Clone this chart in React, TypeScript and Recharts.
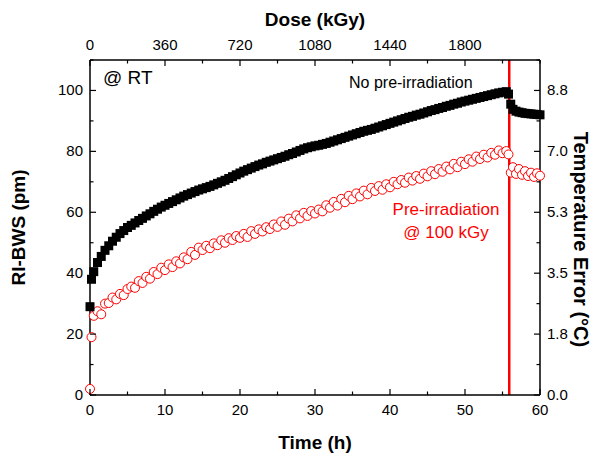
import React from "react";
import {
  ScatterChart, Scatter, XAxis, YAxis, ReferenceLine,
} from "recharts";

// time stamps (h), shared by both series
const hours = [
  0, 0.2,
  0.5, 1, 1.5, 2, 2.5, 3, 3.5, 4, 4.5, 5, 5.5, 6, 6.5, 7, 7.5, 8, 8.5, 9, 9.5, 10,
  10.5, 11, 11.5, 12, 12.5, 13, 13.5, 14, 14.5, 15, 15.5, 16, 16.5, 17, 17.5, 18, 18.5, 19, 19.5, 20,
  20.5, 21, 21.5, 22, 22.5, 23, 23.5, 24, 24.5, 25, 25.5, 26, 26.5, 27, 27.5, 28, 28.5, 29, 29.5, 30,
  30.5, 31, 31.5, 32, 32.5, 33, 33.5, 34, 34.5, 35, 35.5, 36, 36.5, 37, 37.5, 38, 38.5, 39, 39.5, 40,
  40.5, 41, 41.5, 42, 42.5, 43, 43.5, 44, 44.5, 45, 45.5, 46, 46.5, 47, 47.5, 48, 48.5, 49, 49.5, 50,
  50.5, 51, 51.5, 52, 52.5, 53, 53.5, 54, 54.5, 55, 55.5,
  55.8, 56.1, 56.4, 56.8, 57.2, 57.6, 58, 58.4, 58.8, 59.2, 59.6, 60,
];

// RI-BWS (pm), no pre-irradiation
const noPreIrr = [
  29, 38,
  40.5, 43.5, 45.5, 47.5, 49, 50.5, 51.8, 53, 54, 55, 55.7, 56.5, 57.3, 58, 58.8, 59.5, 60.3, 61, 61.7, 62.3,
  62.9, 63.5, 64.1, 64.7, 65.3, 65.8, 66.3, 66.8, 67.3, 67.7, 68.1, 68.5, 69, 69.5, 70, 70.5, 71.1, 71.7, 72.3, 72.9,
  73.5, 74, 74.5, 75, 75.5, 75.9, 76.4, 76.8, 77.2, 77.6, 78, 78.4, 78.9, 79.3, 79.8, 80.3, 80.8, 81.2, 81.5, 81.8,
  82, 82.3, 82.6, 83, 83.4, 83.8, 84.2, 84.6, 85, 85.4, 85.8, 86.2, 86.6, 86.9, 87.2, 87.6, 88, 88.4, 88.8, 89.2,
  89.6, 90, 90.4, 90.8, 91.2, 91.5, 91.9, 92.2, 92.6, 93, 93.4, 93.7, 94.1, 94.4, 94.8, 95.1, 95.5, 95.8, 96.2, 96.5,
  96.8, 97.1, 97.4, 97.7, 98, 98.3, 98.6, 98.9, 99.2, 99.4, 99.6,
  98.8, 95.5, 93.8, 93.2, 92.9, 92.7, 92.5, 92.4, 92.3, 92.2, 92.1, 92,
];

// RI-BWS (pm), pre-irradiation @ 100 kGy
const preIrr = [
  2, 19,
  26, 27.5, 26.5, 30, 30.2, 32, 31.4, 33.2, 32.8, 34.8, 35.6, 35.2, 37.4, 36.8, 38.8, 38.2, 40.4, 39.7, 41.8, 41,
  42.9, 42, 43.9, 43.2, 45.2, 44.6, 47, 46, 48.4, 47.6, 49, 48.2, 49.8, 49.2, 50.8, 50, 51.5, 50.9, 52.2, 51.6,
  52.9, 51.9, 53.8, 52.9, 54.4, 53.7, 55.1, 54.5, 56, 55.2, 57, 55.9, 57.9, 57, 59, 58, 59.8, 58.8, 60.4, 59.6,
  60.9, 60.3, 62.3, 61.5, 63.4, 62.2, 64.4, 63.3, 65.4, 64.3, 66.2, 65.2, 67.1, 65.9, 68, 67, 68.6, 67.4, 69.2, 68.2,
  70, 69.2, 70.6, 69.7, 71.4, 70.4, 71.9, 71, 72.7, 71.8, 73.5, 72.5, 74.2, 73.3, 75, 74.1, 75.9, 74.8, 76.6, 75.8,
  77.4, 76.6, 78.3, 77.5, 78.9, 78, 79.5, 78.9, 80.3, 79.4, 80.1,
  79, 73, 74.8, 72.6, 74.2, 72.3, 73.5, 71.9, 73, 71.6, 72.8, 72,
];

const timeTicks = [0, 5, 10, 15, 20, 25, 30, 35, 40, 45, 50, 55, 60];
const timeLabels = ["0", "", "10", "", "20", "", "30", "", "40", "", "50", "", "60"];
const doseTicks = [0, 180, 360, 540, 720, 900, 1080, 1260, 1440, 1620, 1800, 1980, 2160];
const doseLabels = ["0", "", "360", "", "720", "", "1080", "", "1440", "", "1800", "", ""];
const doseRange = [0, 2160];
const pmTicks = [0, 10, 20, 30, 40, 50, 60, 70, 80, 90, 100, 110];
const pmLabels = ["0", "", "20", "", "40", "", "60", "", "80", "", "100", ""];
const tempLabels = ["0.0", "", "1.8", "", "3.5", "", "5.3", "", "7.0", "", "8.8", ""];

const irradiationEnd = 55.9;

const FONT = "'Liberation Sans', Arial, sans-serif";

const noPreData = hours.map((t, i) => ({ t, v: noPreIrr[i] }));
const preData = hours.map((t, i) => ({ t, v: preIrr[i] }));
// invisible anchor so the top dose axis gets drawn
const doseAnchor = doseRange.map((d) => ({ d, v: 0 }));

type Side = "left" | "right" | "top" | "bottom";

const makeTick = (side: Side, ticks: number[], labels: string[]) => (props: any) => {
  const { x, y, payload } = props;
  const idx = ticks.indexOf(payload.value);
  const label = idx >= 0 ? labels[idx] : "";
  const len = label ? 6 : 3.5;
  let line: [number, number, number, number];
  let tx = x, ty = y, anchor: "start" | "middle" | "end" = "middle";
  if (side === "left") { line = [x, y, x + len, y]; tx = x - 7; ty = y + 5; anchor = "end"; }
  else if (side === "right") { line = [x, y, x - len, y]; tx = x + 7; ty = y + 5; anchor = "start"; }
  else if (side === "bottom") { line = [x, y, x, y - len]; ty = y + 20; }
  else { line = [x, y, x, y + len]; ty = y - 10; }
  return (
    <g>
      <line x1={line[0]} y1={line[1]} x2={line[2]} y2={line[3]} stroke="#000" strokeWidth={1.2} />
      {label && (
        <text x={tx} y={ty} textAnchor={anchor} fontSize={15} fontFamily={FONT} fill="#000">{label}</text>
      )}
    </g>
  );
};

const Square = (props: any) => {
  const { cx, cy } = props;
  if (cx == null || cy == null) return null;
  return <rect x={cx - 4.5} y={cy - 4.5} width={9} height={9} fill="#000" />;
};

const Circle = (props: any) => {
  const { cx, cy } = props;
  if (cx == null || cy == null) return null;
  return <circle cx={cx} cy={cy} r={4.5} fill="#fff" stroke="#ff0000" strokeWidth={1} />;
};

const Nothing = () => null;

const App: React.FC = () => (
  <div style={{ position: "absolute", left: 0, top: 0, width: 603, height: 454, background: "#fff" }}>
    <ScatterChart width={603} height={454} margin={{ top: 0, right: 0, bottom: 0, left: 0 }}>
      <XAxis
        xAxisId="time" dataKey="t" type="number" domain={[0, 60]} ticks={timeTicks}
        orientation="bottom" height={59} interval={0}
        axisLine={{ stroke: "#000", strokeWidth: 1.5 }} tickLine={false} tickSize={0} tickMargin={0}
        tick={makeTick("bottom", timeTicks, timeLabels)}
        label={{ value: "Time (h)", position: "insideBottom", offset: 5, fontSize: 19, fontWeight: 700, fontFamily: FONT, fill: "#000" }}
      />
      <XAxis
        xAxisId="dose" dataKey="d" type="number" domain={doseRange} ticks={doseTicks} allowDataOverflow
        orientation="top" height={60} interval={0}
        axisLine={{ stroke: "#000", strokeWidth: 1.5 }} tickLine={false} tickSize={0} tickMargin={0}
        tick={makeTick("top", doseTicks, doseLabels)}
        label={{ value: "Dose (kGy)", position: "insideTop", offset: 13, fontSize: 19, fontWeight: 700, fontFamily: FONT, fill: "#000" }}
      />
      <YAxis
        yAxisId="pm" dataKey="v" type="number" domain={[0, 110]} ticks={pmTicks} allowDataOverflow
        orientation="left" width={90} interval={0}
        axisLine={{ stroke: "#000", strokeWidth: 1.5 }} tickLine={false} tickSize={0} tickMargin={0}
        tick={makeTick("left", pmTicks, pmLabels)}
        label={{ value: "RI-BWS (pm)", angle: -90, position: "insideLeft", offset: 18, fontSize: 19, fontWeight: 700, fontFamily: FONT, fill: "#000", style: { textAnchor: "middle" } }}
      />
      <YAxis
        yAxisId="temp" dataKey="v" type="number" domain={[0, 110]} ticks={pmTicks} allowDataOverflow
        orientation="right" width={63} interval={0}
        axisLine={{ stroke: "#000", strokeWidth: 1.5 }} tickLine={false} tickSize={0} tickMargin={0}
        tick={makeTick("right", pmTicks, tempLabels)}
        label={{ value: "Temperature Error (°C)", angle: 90, position: "insideRight", offset: 22, dy: 12, fontSize: 20, fontWeight: 700, fontFamily: FONT, fill: "#000", style: { textAnchor: "middle" } }}
      />
      <Scatter xAxisId="dose" yAxisId="temp" data={doseAnchor} dataKey="v" shape={Nothing} isAnimationActive={false} />
      <Scatter xAxisId="time" yAxisId="pm" data={preData} dataKey="v" shape={Circle} isAnimationActive={false} />
      <Scatter xAxisId="time" yAxisId="pm" data={noPreData} dataKey="v" shape={Square} isAnimationActive={false} />
      <ReferenceLine xAxisId="time" yAxisId="pm" x={irradiationEnd} stroke="#ff0000" strokeWidth={2.5} />
    </ScatterChart>
    <svg width={603} height={454} style={{ position: "absolute", left: 0, top: 0, pointerEvents: "none" }}>
      <text x={103} y={84} fontSize={19} fontFamily={FONT} fill="#000">@ RT</text>
      <text x={349} y={88} fontSize={16} fontFamily={FONT} fill="#000">No pre-irradiation</text>
      <text x={446} y={215} fontSize={17} fontFamily={FONT} fill="#ff0000" textAnchor="middle">Pre-irradiation</text>
      <text x={446} y={238} fontSize={17} fontFamily={FONT} fill="#ff0000" textAnchor="middle">@ 100 kGy</text>
    </svg>
  </div>
);

export default App;
